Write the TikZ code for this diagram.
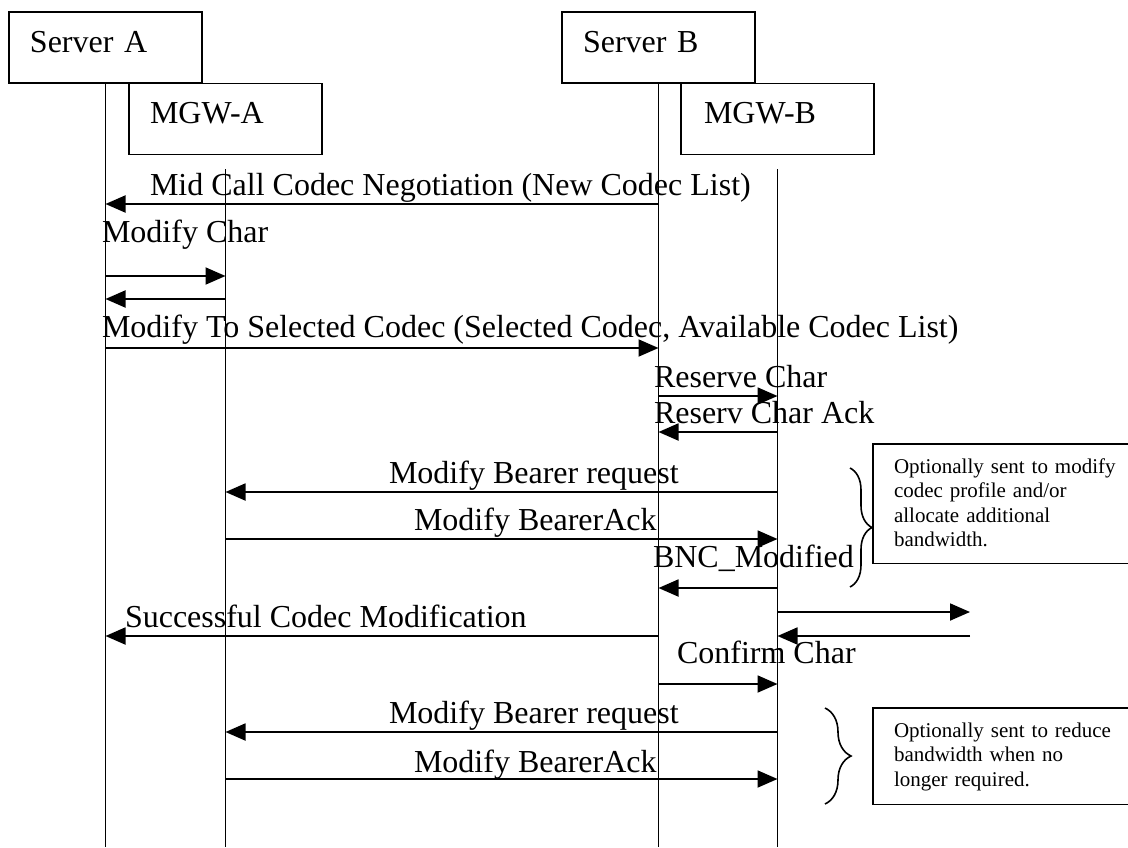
\documentclass[tikz,border=0pt]{standalone}
\usepackage{fontspec}
\setmainfont{Liberation Serif}
\usetikzlibrary{arrows.meta,decorations.pathreplacing}
\begin{document}
\begin{tikzpicture}[x=1pt,y=-1pt,
  every node/.style={inner sep=0pt, outer sep=0pt},
  big/.style={font=\fontsize{32}{38}\selectfont},
  ent/.style={draw, line width=1.9pt, big, minimum width=193pt, minimum height=71pt,
    text width=151pt, align=left, inner xsep=21pt, text height=20pt, text depth=11pt},
  lbl/.style={big, anchor=base west},
  life/.style={line width=1.9pt},
  msg/.style={line width=1.9pt, -{Triangle[length=20pt,width=17pt]}},
  note/.style={draw, line width=1.9pt, anchor=north west, text width=300pt, align=left,
    inner xsep=21pt, inner ysep=14pt, font=\fontsize{21}{24.5}\selectfont},
  bracestyle/.style={line width=1.6pt, decorate}
]
\useasboundingbox (0,0) rectangle (1128,847);

% entities
\node[ent] (sA) at (105.5,47.5) {Server A};
\node[ent] (mA) at (225.5,119) {MGW-A};
\node[ent] (sB) at (658.5,47.5) {Server B};
\node[ent] (mB) at (777.5,119) {\hspace*{2pt}MGW-B};

\coordinate (bot) at (0,847);
\coordinate (mtop) at (0,169);
\coordinate (ext) at (970,0);

% lifelines
\draw[life] (sA.south) -- (sA.south |- bot);
\draw[life] (sB.south) -- (sB.south |- bot);
\draw[life] (mA |- mtop) -- (mA |- bot);
\draw[life] (mB |- mtop) -- (mB |- bot);

% message levels
\coordinate (y1) at (0,204);
\coordinate (y2) at (0,276);
\coordinate (y3) at (0,299);
\coordinate (y4) at (0,348);
\coordinate (y5) at (0,396);
\coordinate (y6) at (0,432);
\coordinate (y7) at (0,492);
\coordinate (y8) at (0,539);
\coordinate (y9) at (0,588);
\coordinate (y10) at (0,612);
\coordinate (y11) at (0,636);
\coordinate (y12) at (0,636);
\coordinate (y13) at (0,684);
\coordinate (y14) at (0,732);
\coordinate (y15) at (0,779);

% messages
\draw[msg] (sB |- y1) -- (sA |- y1);
\draw[msg] (sA |- y2) -- (mA |- y2);
\draw[msg] (mA |- y3) -- (sA |- y3);
\draw[msg] (sA |- y4) -- (sB |- y4);
\draw[msg] (sB |- y5) -- (mB |- y5);
\draw[msg] (mB |- y6) -- (sB |- y6);
\draw[msg] (mB |- y7) -- (mA |- y7);
\draw[msg] (mA |- y8) -- (mB |- y8);
\draw[msg] (mB |- y9) -- (sB |- y9);
\draw[msg] (mB |- y10) -- (ext |- y10);
\draw[msg] (ext |- y11) -- (mB |- y11);
\draw[msg] (sB |- y12) -- (sA |- y12);
\draw[msg] (sB |- y13) -- (mB |- y13);
\draw[msg] (mB |- y14) -- (mA |- y14);
\draw[msg] (mA |- y15) -- (mB |- y15);

% labels
\node[lbl] (l1) at (150,195) {Mid Call Codec Negotiation (New Codec List)};
\node[lbl] (l2) at (102,242) {Modify Char};
\node[lbl] (l3) at (102,337) {Modify To Selected Codec (Selected Codec, Available Codec List)};
\node[lbl] (l4) at (654,387) {Reserve Char};
\node[lbl] (l5) at (654,423) {Reserv Char Ack};
\node[lbl] (l6) at (389,483) {Modify Bearer request};
\node[lbl] (l7) at (414,530) {Modify BearerAck};
\node[lbl] (l8) at (653,567) {BNC\_Modified};
\node[lbl] (l9) at (125,627) {Successful Codec Modification};
\node[lbl] (l10) at (677,663) {Confirm Char};
\node[lbl] (l11) at (389,723) {Modify Bearer request};
\node[lbl] (l12) at (414,772) {Modify BearerAck};

% braces
\coordinate (b1t) at (850,468);
\coordinate (b1b) at (850,587);
\coordinate (b2t) at (825,708);
\coordinate (b2b) at (825,804);
\draw[bracestyle, decoration={brace, amplitude=22pt}] (b1t) -- (b1b);
\draw[bracestyle, decoration={brace, amplitude=26pt}] (b2t) -- (b2b);

% notes
\node[note] (n1) at (873,444) {\rule{0pt}{15pt}Optionally sent to modify\\codec profile and/or\\allocate additional\\bandwidth.\rule[-3pt]{0pt}{3pt}};
\node[note] (n2) at (873,708) {\rule{0pt}{15pt}Optionally sent to reduce\\bandwidth when no\\longer required.\rule[-4.5pt]{0pt}{4.5pt}};
\end{tikzpicture}
\end{document}
